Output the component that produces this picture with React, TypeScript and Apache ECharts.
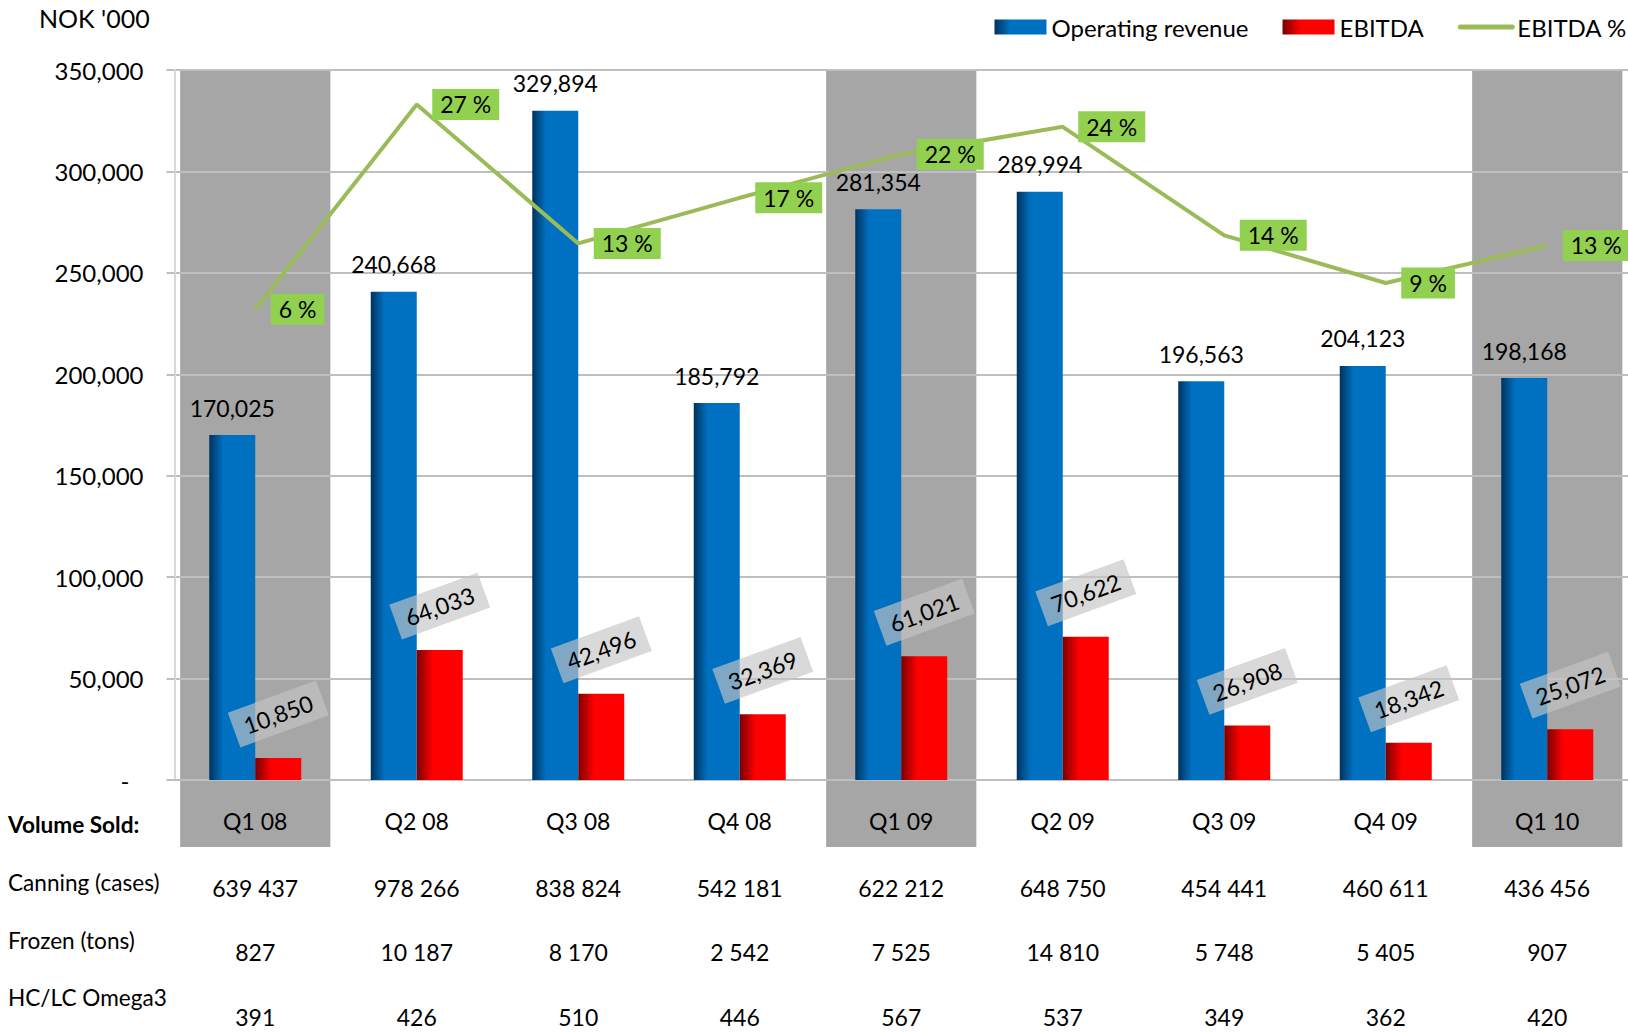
import React, { useEffect, useRef } from "react";
import * as echarts from "echarts";

const quarters = ["Q1 08", "Q2 08", "Q3 08", "Q4 08", "Q1 09", "Q2 09", "Q3 09", "Q4 09", "Q1 10"];
const highlighted = ["Q1 08", "Q1 09", "Q1 10"];
const revenue = [170025, 240668, 329894, 185792, 281354, 289994, 196563, 204123, 198168];
const ebitda = [10850, 64033, 42496, 32369, 61021, 70622, 26908, 18342, 25072];
const ebitdaPct = [6.4, 26.6, 12.9, 17.4, 21.7, 24.4, 13.7, 9.0, 12.7];
const canning = ["639 437", "978 266", "838 824", "542 181", "622 212", "648 750", "454 441", "460 611", "436 456"];
const frozen = ["827", "10 187", "8 170", "2 542", "7 525", "14 810", "5 748", "5 405", "907"];
const omega = ["391", "426", "510", "446", "567", "537", "349", "362", "420"];
const rowLabels = ["Volume Sold:", "Canning (cases)", "Frozen (tons)", "HC/LC Omega3"];
const unitLabel = "NOK '000";

const FONT = "Lato, 'Open Sans', sans-serif";

export default function App() {
  const ref = useRef<HTMLDivElement>(null);
  useEffect(() => {
    document.body.style.margin = "0";
    const chart = echarts.init(ref.current!, null, { renderer: "svg" });
    const gridLeft = 174.5;
    const gridTop = 70;
    const gridHeight = 710;
    const zeroY = gridTop + gridHeight;

    const tableAxis = (data: string[], y: number) => ({
      type: "category",
      gridIndex: 0,
      position: "bottom",
      offset: y - zeroY,
      data,
      axisLine: { show: false },
      axisTick: { show: false },
      splitLine: { show: false },
      axisLabel: {
        margin: 0,
        verticalAlign: "middle",
        fontFamily: FONT,
        fontSize: 23,
        color: "#000",
        interval: 0,
      },
    });

    const option: any = {
      animation: false,
      grid: { left: gridLeft, top: gridTop, width: 1453.5, height: gridHeight },
      legend: {
        right: -4,
        top: 10,
        itemWidth: 52,
        itemHeight: 15,
        itemGap: 34,
        textStyle: { fontFamily: FONT, fontSize: 24, color: "#000" },
        data: [
          { name: "Operating revenue", icon: "rect" },
          { name: "EBITDA", icon: "rect" },
          {
            name: "EBITDA %",
            itemStyle: { opacity: 0 },
            lineStyle: { width: 5, cap: "round", color: "#9BBB59" },
          },
        ],
      },
      xAxis: [
        {
          type: "category",
          data: quarters,
          axisLine: { show: true, lineStyle: { color: "#BFBFBF", width: 2 } },
          axisTick: { show: false },
          axisLabel: {
            margin: 41,
            verticalAlign: "middle",
            fontFamily: FONT,
            fontSize: 23,
            color: "#000",
            interval: 0,
          },
        },
        tableAxis(canning, 888),
        tableAxis(frozen, 952),
        tableAxis(omega, 1017),
      ],
      yAxis: [
        {
          type: "value",
          min: 0,
          max: 350000,
          interval: 50000,
          axisLine: { show: true, lineStyle: { color: "#D9D9D9", width: 2 } },
          axisTick: { show: true, length: 8, lineStyle: { color: "#BFBFBF", width: 2 } },
          splitLine: { show: true, lineStyle: { color: "#BFBFBF", width: 2 } },
          axisLabel: {
            margin: 31,
            fontFamily: FONT,
            fontSize: 24,
            color: "#000",
            formatter: (v: number) => (v === 0 ? "{d|-}" : v.toLocaleString("en-US")),
            rich: { d: { fontFamily: FONT, fontSize: 24, color: "#000", padding: [0, 14, 0, 0] } },
          },
        },
        {
          type: "value",
          min: -40,
          max: 30,
          show: false,
          splitLine: { show: false },
        },
      ],
      graphic: [
        {
          type: "text",
          left: 39,
          top: 5,
          style: { text: unitLabel, fontFamily: FONT, fontSize: 25, fill: "#000" },
        },
        ...rowLabels.map((t, i) => ({
          type: "text",
          left: 8,
          top: [826, 884, 942, 999][i] - 13,
          style: {
            text: t,
            fontFamily: FONT,
            fontSize: 22.6,
            fontWeight: i === 0 ? "bold" : "normal",
            fill: "#000",
          },
        })),
      ],
      series: [
        {
          type: "custom",
          name: "bands",
          z: -1,
          clip: false,
          silent: true,
          data: highlighted.map((q) => [quarters.indexOf(q)]),
          encode: { x: 0 },
          renderItem: (params: any, api: any) => {
            const c = api.coord([api.value(0), 0]);
            const w = api.size([1, 0])[0] * 0.93;
            const cs = params.coordSys;
            const x0 = c[0] - w / 2;
            const x1 = Math.min(c[0] + w / 2, cs.x + cs.width);
            return {
              type: "rect",
              shape: { x: x0, y: cs.y, width: x1 - x0, height: c[1] - cs.y + 67 },
              style: { fill: "#A6A6A6" },
            };
          },
        },
        {
          type: "bar",
          name: "Operating revenue",
          data: revenue,
          barWidth: 46,
          barGap: "0%",
          itemStyle: {
            color: new echarts.graphic.LinearGradient(0, 0, 1, 0, [
              { offset: 0, color: "#00335F" },
              { offset: 0.3, color: "#0070C0" },
              { offset: 1, color: "#0070C0" },
            ]),
          },
          label: {
            show: true,
            position: "top",
            distance: 16,
            fontFamily: FONT,
            fontSize: 23,
            color: "#000",
            formatter: (p: any) => Number(p.value).toLocaleString("en-US"),
          },
        },
        {
          type: "bar",
          name: "EBITDA",
          data: ebitda,
          barWidth: 46,
          barGap: "0%",
          itemStyle: {
            color: new echarts.graphic.LinearGradient(0, 0, 1, 0, [
              { offset: 0, color: "#7A0000" },
              { offset: 0.35, color: "#FF0000" },
              { offset: 1, color: "#FF0000" },
            ]),
          },
          label: {
            show: true,
            position: "top",
            distance: 44,
            rotate: 20,
            align: "center",
            verticalAlign: "middle",
            backgroundColor: "rgba(196,196,196,0.65)",
            padding: [7, 11],
            fontFamily: FONT,
            fontSize: 23,
            color: "#000",
            formatter: (p: any) => Number(p.value).toLocaleString("en-US"),
          },
        },
        {
          type: "line",
          name: "EBITDA %",
          yAxisIndex: 1,
          data: ebitdaPct,
          z: 5,
          symbol: "circle",
          symbolSize: 1,
          color: "#9BBB59",
          lineStyle: { color: "#9BBB59", width: 4 },
          itemStyle: { color: "#9BBB59" },
          label: {
            show: true,
            position: "right",
            distance: 15,
            backgroundColor: "#92D050",
            padding: [4, 8],
            fontFamily: FONT,
            fontSize: 23,
            color: "#000",
            formatter: (p: any) => Math.round(Number(p.value)) + " %",
          },
        },
      ],
    };
    chart.setOption(option);
    return () => chart.dispose();
  }, []);
  return (
    <div
      ref={ref}
      style={{ position: "fixed", left: 0, top: 0, width: 1628, height: 1033, background: "#fff" }}
    />
  );
}
